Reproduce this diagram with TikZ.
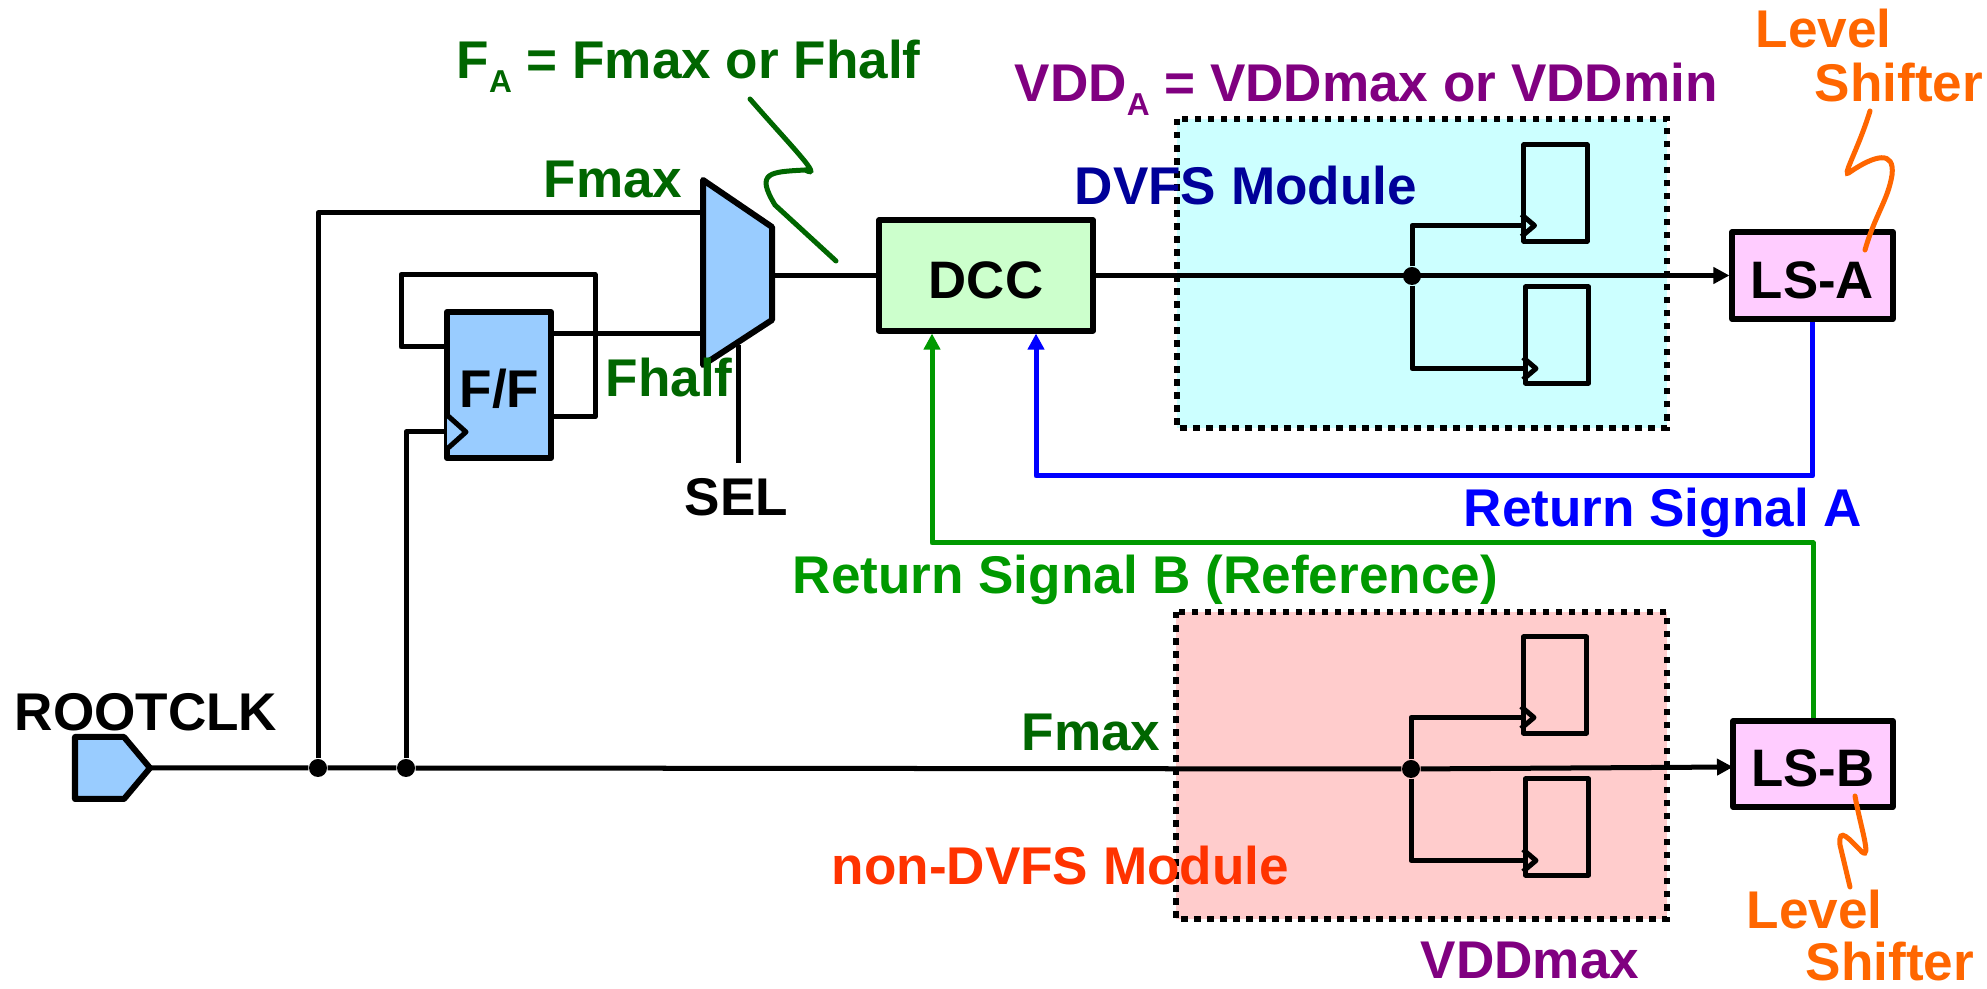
\documentclass[tikz,border=0pt]{standalone}
\usepackage{fontspec}
\setmainfont{Liberation Sans}
\usetikzlibrary{arrows.meta,calc}
\definecolor{muxblue}{RGB}{153,204,255}
\definecolor{dccgreen}{RGB}{204,255,204}
\definecolor{lspink}{RGB}{255,204,255}
\definecolor{dvfscyan}{RGB}{204,255,255}
\definecolor{nondvfsred}{RGB}{255,204,204}
\definecolor{fgreen}{RGB}{0,102,0}
\definecolor{retgreen}{RGB}{0,153,0}
\definecolor{vddpurple}{RGB}{128,0,128}
\definecolor{lsorange}{RGB}{255,102,0}
\definecolor{nondvfstext}{RGB}{255,51,0}
\definecolor{dvfsnavy}{RGB}{0,0,153}
\tikzset{
    wire/.style={line width=0.05cm,line join=round},
    tip/.style={-{Triangle[length=0.16cm,width=0.16cm]}},
    block/.style={draw,line width=0.06cm,line join=round,inner sep=0pt,text height=0.45cm,text depth=0pt,font=\bfseries\fontsize{15}{17}\selectfont},
    flop/.style={draw,line width=0.05cm,line join=round,inner sep=0pt,minimum width=0.63cm,minimum height=0.96cm},
    module/.style={draw,line width=0.065cm,dash pattern=on 0.065cm off 0.065cm},
    jdot/.style={circle,fill=black,inner sep=0pt,minimum size=0.18cm},
    lab/.style={anchor=base west,inner sep=0pt,font=\bfseries\fontsize{15.1}{17}\selectfont},
    squiggle/.style={line width=0.05cm,line cap=round},
}
\newcommand{\subtag}{\raisebox{-0.14cm}{\fontsize{9}{9}\selectfont A}}
\begin{document}
\begin{tikzpicture}[x=0.01cm,y=-0.01cm]
    \useasboundingbox (0,0) rectangle (1987,989);
    \fill[dvfscyan] (1177,119) rectangle (1667,428);
    \fill[nondvfsred] (1176,612) rectangle (1667,919);
    \draw[module] (1177,119) rectangle (1667,428);
    \draw[module] (1176,612) rectangle (1667,919);

    \node[block,fill=muxblue,minimum width=1.04cm,minimum height=1.46cm] (ff) at (499,385) {};
    \node[block,fill=dccgreen,minimum width=2.14cm,minimum height=1.10cm] (dcc) at (986,275.5) {DCC};
    \node[block,fill=lspink,minimum width=1.60cm,minimum height=0.87cm] (lsa) at (1812.5,275.5) {LS-A};
    \node[block,fill=lspink,minimum width=1.59cm,minimum height=0.86cm] (lsb) at (1813,764) {LS-B};
    \node[flop] (fa) at (1555.5,193) {};
    \node[flop] (fb) at (1557,335) {};
    \node[flop] (fc) at (1555,685) {};
    \node[flop] (fd) at (1557,827) {};

    \coordinate (root) at (150,768);
    \coordinate (muxa) at (703,213);
    \coordinate (muxb) at (703,334);
    \coordinate (muxout) at (772,275.5);
    \coordinate (ffq) at (551,334);
    \coordinate (ffqb) at (551,417);
    \coordinate (ffd) at (447,347);
    \coordinate (ffclk) at (447,432);
    \coordinate (lsbin) at (1733,767);
    \coordinate (selend) at (738,463);
    \coordinate (selstart) at (738,345);
    \node[jdot] (dota) at (318,768) {};
    \node[jdot] (dotb) at (406,768) {};
    \node[jdot] (dotc) at (1412,276) {};
    \node[jdot] (dotd) at (1411,769) {};

    \draw[wire] (root) -- (dota) -- (dotb) -- (dotd);
    \draw[wire,tip] (dotd) -- (lsbin);
    \draw[wire] (dota) |- (muxa);
    \draw[wire] (dotb) |- (ffclk);
    \draw[wire] (ffq) -- (muxb);
    \draw[wire] (ffqb) -- ++(44,0) |- (401,274.5) |- (ffd);
    \draw[wire] (selstart) -- (selend);
    \draw[wire] (muxout) -- (dcc.west);
    \draw[wire,tip] (dcc.east) -- (lsa.west);
    \draw[wire] (dotc) |- ($(fa.south west)+(0,-18)$);
    \draw[wire] (dotc) |- ($(fb.south west)+(0,-17)$);
    \draw[wire] (dotd) |- ($(fc.south west)+(0,-18)$);
    \draw[wire] (dotd) |- ($(fd.south west)+(0,-17)$);
    \foreach \f/\h in {fa/18,fb/17,fc/18,fd/17} {
        \draw[wire] ($(\f.south west)+(0,-\h-11)$) -- ++(13,11) -- ++(-13,11);
    }

    \draw[line width=0.06cm,line join=round,fill=muxblue] (703,180) -- (772,227) -- (772,320) -- (703,365) -- cycle;
    \draw[line width=0.06cm,line join=round,fill=muxblue] (75,737) -- (124,737) -- (root) -- (124,799) -- (75,799) -- cycle;
    \draw[wire,fill=muxblue] (447,415) -- (466,432) -- (447,449);

    \draw[wire,blue,tip] (lsa.south) |- (1036,476) -- (dcc.south -| 1036,0);
    \draw[wire,retgreen,tip] (lsb.north) |- (932,543) -- (dcc.south -| 932,0);

    \draw[squiggle,fgreen] (750,99) .. controls (790,145) and (825,180) .. (805,170) .. controls (770,172) and (755,172) .. (775,205) -- (836,261);
    \draw[squiggle,lsorange] (1870,111) .. controls (1858,150) and (1840,180) .. (1850,172) .. controls (1875,155) and (1895,150) .. (1892,175) .. controls (1888,200) and (1875,215) .. (1865,250);
    \draw[squiggle,lsorange] (1855,796) .. controls (1860,825) and (1872,860) .. (1862,852) .. controls (1850,840) and (1838,825) .. (1840,845) -- (1850,887);

    \node[lab,fgreen] (fatext) at (456,79) {F\subtag{} = Fmax or Fhalf};
    \node[lab,fgreen] (fmaxtop) at (543,198) {Fmax};
    \node[lab,fgreen] (fhalf) at (605,397) {Fhalf};
    \node[lab,fgreen] (fmaxlow) at (1021,751) {Fmax};
    \node[lab] (fftext) at (459,408) {F/F};
    \node[lab] (sel) at (684,516) {SEL};
    \node[lab] (rootclk) at (14,731) {ROOTCLK};
    \node[lab,vddpurple] (vdda) at (1014,102) {VDD\subtag{} = VDDmax or VDDmin};
    \node[lab,vddpurple] (vddmax) at (1420,979) {VDDmax};
    \node[lab,dvfsnavy] (dvfs) at (1074,205) {DVFS Module};
    \node[lab,nondvfstext] (nondvfs) at (831,885) {non-DVFS Module};
    \node[lab,blue] (reta) at (1463,527) {Return Signal A};
    \node[lab,retgreen] (retb) at (792,594) {Return Signal B (Reference)};
    \node[lab,lsorange] (levela) at (1755,48) {Level};
    \node[lab,lsorange] (shiftera) at (1814,102) {Shifter};
    \node[lab,lsorange] (levelb) at (1746,929) {Level};
    \node[lab,lsorange] (shifterb) at (1805,981) {Shifter};
\end{tikzpicture}
\end{document}
